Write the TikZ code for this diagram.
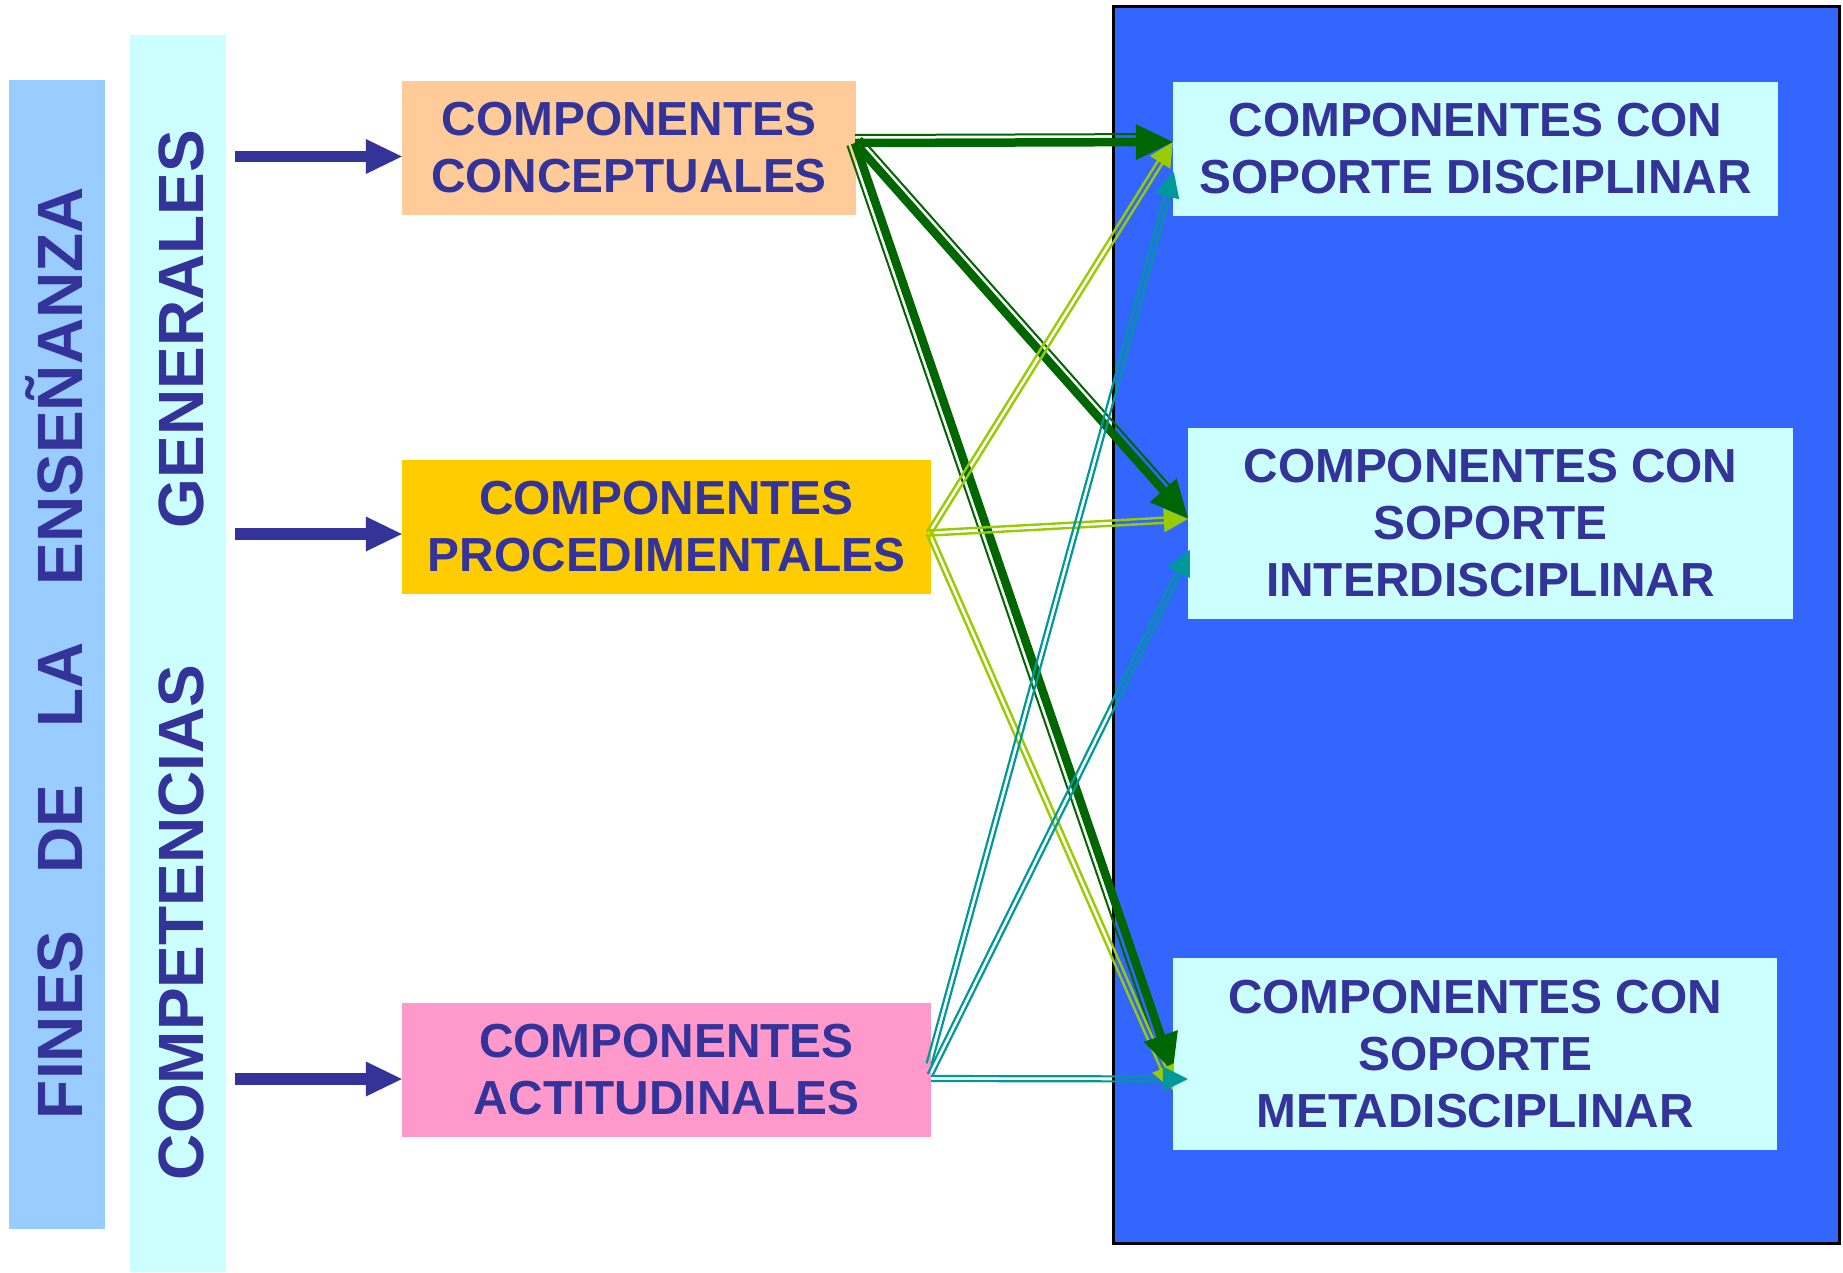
\documentclass[tikz,border=0pt]{standalone}
\usepackage{fontspec}
\setmainfont{Liberation Sans}
\usetikzlibrary{calc}
\definecolor{navy}{HTML}{333399}
\definecolor{bandblue}{HTML}{99CCFF}
\definecolor{bandcyan}{HTML}{CCFFFF}
\definecolor{peach}{HTML}{FFCC99}
\definecolor{gold}{HTML}{FFCC00}
\definecolor{pinkc}{HTML}{FF99CC}
\definecolor{bigblue}{HTML}{3366FF}
\definecolor{dgreen}{HTML}{006600}
\definecolor{lime}{HTML}{99CC00}
\definecolor{tealc}{HTML}{009999}
% parallel offset line: #1 style, #2 from, #3 to, #4 distance, #5 angle at start, #6 angle at end, #7 shorten end
\newcommand{\offline}[7]{%
  \coordinate (oE) at ($(#3)!#7!(#2)$);
  \draw[#1] ($(#2)!#4!#5:(#3)$) -- ($(oE)!#4!#6:(#2)$);
}
% filled arrow head: #1 colour, #2 from, #3 tip, #4 length, #5 half width
\newcommand{\headtri}[5]{%
  \coordinate (hB) at ($(#3)!#4!(#2)$);
  \fill[#1] (#3) -- ($(hB)!#5!90:(#3)$) -- ($(hB)!#5!-90:(#3)$) -- cycle;
}
\tikzset{
  box/.style={inner sep=0pt, align=center, text=navy,
    font={\bfseries\fontsize{47.8pt}{57pt}\selectfont}},
  vtext/.style={inner sep=0pt, text=navy, rotate=90, anchor=base,
    font={\bfseries\fontsize{64pt}{70pt}\selectfont}},
  band/.style={inner sep=0pt, draw=none},
}
\begin{document}
\begin{tikzpicture}[x=1pt,y=-1pt]
\useasboundingbox (0,0) rectangle (1843,1272);
\fill[white] (0,0) rectangle (1843,1272);
% big blue panel
\node[band, fill=bigblue, draw=black, line width=3pt, minimum width=726pt, minimum height=1237pt] (panel) at (1476.5,625) {};
% left bands
\node[band, fill=bandblue, minimum width=96pt, minimum height=1149pt] (bandf) at (57,654.5) {};
\node[band, fill=bandcyan, minimum width=96pt, minimum height=1237pt] (bandc) at (178,653.5) {};
\node[vtext] (fines) at (82,653) {\makebox[932pt]{FINES\hfill DE\hfill LA\hfill ENSEÑANZA}};
\node[vtext] (compet) at (203,655) {\makebox[1050pt]{COMPETENCIAS\hfill GENERALES}};
% component boxes
\node[box, fill=peach, minimum width=454pt, minimum height=134pt] (conc) at (629,148) {COMPONENTES\\CONCEPTUALES};
\node[box, fill=gold, minimum width=529pt, minimum height=134pt] (proc) at (666.5,527) {COMPONENTES\\PROCEDIMENTALES};
\node[box, fill=pinkc, minimum width=529pt, minimum height=134pt] (acti) at (666.5,1070) {COMPONENTES\\ACTITUDINALES};
\node[box, fill=bandcyan, minimum width=605pt, minimum height=134pt] (dis) at (1475.5,149) {COMPONENTES CON\\SOPORTE DISCIPLINAR};
\node[box, fill=bandcyan, minimum width=605pt, minimum height=191pt] (inter) at (1490.5,523.5) {COMPONENTES CON\\SOPORTE\\INTERDISCIPLINAR};
\node[box, fill=bandcyan, minimum width=604pt, minimum height=192pt] (meta) at (1475,1054) {COMPONENTES CON\\SOPORTE\\METADISCIPLINAR};
% navy arrows from the band
\coordinate (s1) at (235,156.5);
\coordinate (s2) at (235,534);
\coordinate (s3) at (235,1079);
\coordinate (e1) at (s1 -| conc.west);
\coordinate (e2) at (s2 -| proc.west);
\coordinate (e3) at (s3 -| acti.west);
\foreach \s/\e in {s1/e1,s2/e2,s3/e3}{
  \draw[navy, line width=11.6pt] (\s) -- ($(\e)!30pt!(\s)$);
  \headtri{navy}{\s}{\e}{36pt}{17.5pt}
}
% connector ports
\coordinate (cg) at (855,143);
\coordinate (pl) at (929,533);
\coordinate (a1) at (929,1064);
\coordinate (a2) at (930,1075);
\coordinate (a3) at (931,1078.5);
\coordinate (t1g) at (dis.west |- 0,142);
\coordinate (t2g) at (inter.west |- 0,518);
\coordinate (t3g) at (meta.west |- 0,1071);
\coordinate (t1l) at (dis.west |- 0,142);
\coordinate (t2l) at (inter.west |- 0,519);
\coordinate (t3l) at (meta.west |- 0,1090);
\coordinate (t1t) at ($(dis.west |- 0,172)+(1,0)$);
\coordinate (t2t) at ($(inter.west |- 0,550)+(2,0)$);
\coordinate (t3t) at (inter.west |- 0,1079);
% dark green thick-thin lines
\foreach \t in {t1g,t2g,t3g}{
  \draw[dgreen, line width=8.5pt] (cg) -- ($(\t)!22pt!(cg)$);
}
\offline{dgreen, line width=2pt}{cg}{t1g}{8pt}{90}{-90}{22pt}
\offline{dgreen, line width=2pt}{cg}{t2g}{8pt}{90}{-90}{22pt}
\offline{dgreen, line width=2pt}{cg}{t3g}{8pt}{-90}{90}{22pt}
% lime double lines
\foreach \t in {t1l,t2l,t3l}{
  \offline{lime, line width=2.4pt}{pl}{\t}{2.6pt}{90}{-90}{12pt}
  \offline{lime, line width=2.4pt}{pl}{\t}{2.6pt}{-90}{90}{12pt}
}
% teal double lines
\foreach \s/\t in {a1/t1t,a2/t2t,a3/t3t}{
  \offline{tealc, line width=2.2pt}{\s}{\t}{2.5pt}{90}{-90}{12pt}
  \offline{tealc, line width=2.2pt}{\s}{\t}{2.5pt}{-90}{90}{12pt}
}
% arrow heads
\headtri{dgreen}{cg}{t1g}{37pt}{18pt}
\headtri{dgreen}{cg}{t2g}{37pt}{18pt}
\headtri{dgreen}{cg}{t3g}{37pt}{18pt}
\headtri{lime}{pl}{t1l}{24pt}{12pt}
\headtri{lime}{pl}{t2l}{24pt}{12pt}
\headtri{lime}{pl}{t3l}{24pt}{12pt}
\headtri{tealc}{a1}{t1t}{25pt}{12.5pt}
\headtri{tealc}{a2}{t2t}{25pt}{12.5pt}
\headtri{tealc}{a3}{t3t}{25pt}{12.5pt}
\end{tikzpicture}
\end{document}
